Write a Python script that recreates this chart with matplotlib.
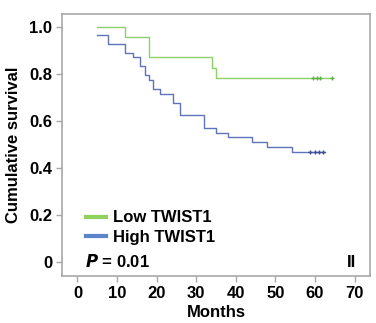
import numpy as np
import matplotlib
matplotlib.use("Agg")
from matplotlib import pyplot as plt
from matplotlib.lines import Line2D

# Kaplan-Meier steps (months, survival)
lowTimes = [5.0, 12.0, 18.1, 33.9, 35.0, 64.2]
lowSurv = [1.0, 0.957, 0.870, 0.826, 0.783, 0.783]
lowCensor = [59.6, 60.4, 61.2, 64.2]

highTimes = [5.0, 7.8, 12.0, 14.0, 15.8, 17.1, 18.1, 19.0, 20.9, 24.1, 26.0, 32.0, 35.0, 38.1, 44.0, 47.8, 54.1, 62.5]
highSurv = [0.965, 0.925, 0.889, 0.870, 0.833, 0.794, 0.773, 0.735, 0.715, 0.677, 0.623, 0.570, 0.546, 0.531, 0.508, 0.489, 0.468, 0.468]
highCensor = [58.8, 59.9, 61.0, 62.1]

xTicks = [0, 10, 20, 30, 40, 50, 60, 70]
yTicks = [0, 0.2, 0.4, 0.6, 0.8, 1.0]
yTickLabels = ["0", "0.2", "0.4", "0.6", "0.8", "1.0"]

lowColor = "#8dd16a"
highColor = "#5e74bb"
lowLegend = "#8fd35e"
highLegend = "#5a85c8"
spineColor = "#a8a8a8"

plt.rcParams["font.family"] = ["Liberation Sans", "DejaVu Sans"]
plt.rcParams["font.weight"] = "bold"

fig = plt.figure(figsize=(3.76, 3.23), dpi=100)
ax = fig.add_axes([0.165, 0.145, 0.819, 0.812])

ax.step(lowTimes, lowSurv, where="post", color=lowColor, lw=1.0)
ax.step(highTimes, highSurv, where="post", color=highColor, lw=1.0)
ax.plot(lowCensor, np.interp(lowCensor, lowTimes, lowSurv), "+", color="#5fb04a", ms=3.5, mew=1.0)
ax.plot(highCensor, np.interp(highCensor, highTimes, highSurv), "+", color="#3d4f9a", ms=3.5, mew=1.0)

ax.set_xlim(-3.9, 73.9)
ax.set_ylim(-0.061, 1.054)
ax.set_xticks(xTicks)
ax.set_yticks(yTicks)
ax.set_yticklabels(yTickLabels)
ax.tick_params(direction="out", length=4, width=1, color=spineColor, labelsize=12, pad=3)
for lab in ax.get_xticklabels() + ax.get_yticklabels():
    lab.set_fontweight("bold")
for s in ax.spines.values():
    s.set_color(spineColor)
    s.set_linewidth(1.2)

ax.set_xlabel("Months", fontsize=12, fontweight="bold", labelpad=3)
ax.set_ylabel("Cumulative survival", fontsize=12, fontweight="bold", labelpad=6)

handles = [Line2D([], [], color=lowLegend, lw=3), Line2D([], [], color=highLegend, lw=3)]
ax.legend(handles, ["Low TWIST1", "High TWIST1"], loc="lower left", bbox_to_anchor=(0.055, 0.095),
          frameon=False, handlelength=1.2, handletextpad=0.45, labelspacing=0.25,
          borderaxespad=0, prop={"weight": "bold", "size": 12})

ax.text(0.075, 0.025, r"$\bf{\it{P}}$ = 0.01", transform=ax.transAxes, fontsize=12,
        fontweight="bold", ha="left", va="bottom")
ax.text(0.955, 0.025, "II", transform=ax.transAxes, fontsize=12, fontweight="bold",
        ha="right", va="bottom")

fig.savefig("out.png", dpi=100)
